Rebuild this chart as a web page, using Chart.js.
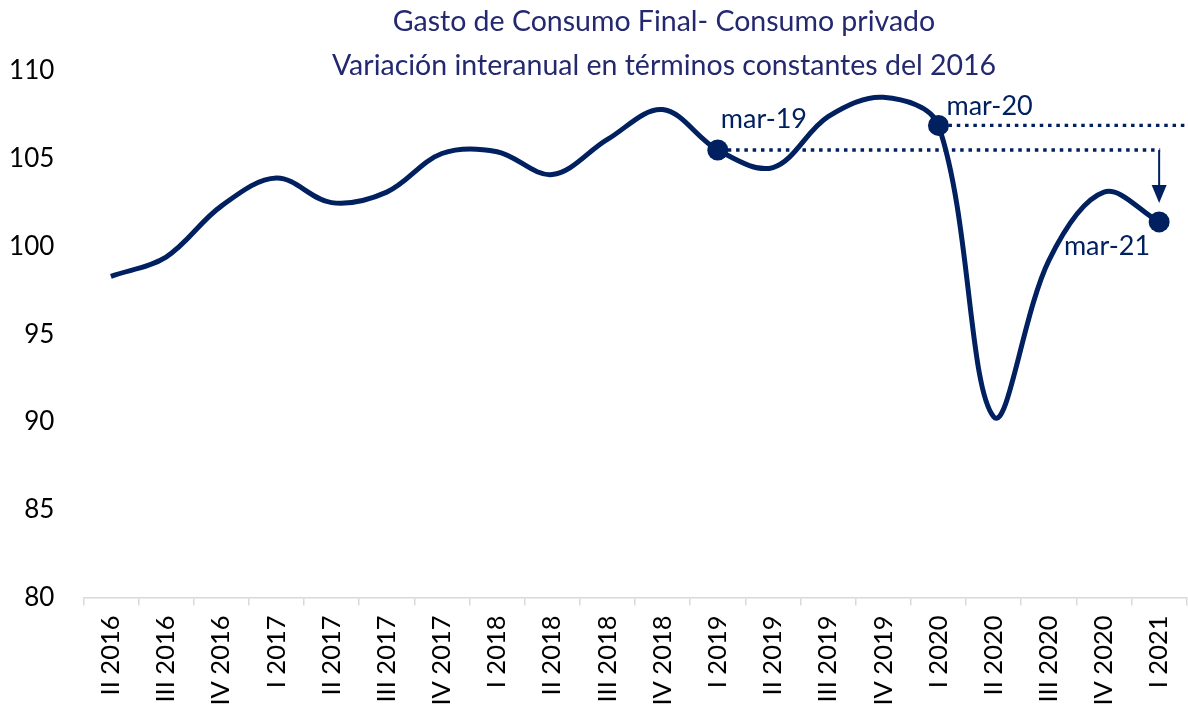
<!DOCTYPE html>
<html>
<head>
<meta charset="utf-8">
<script src="https://cdn.jsdelivr.net/npm/chart.js@4.4.1/dist/chart.umd.min.js"></script>
<style>
  html, body { margin: 0; padding: 0; background: #fff; overflow: hidden; }
  #wrap { width: 1200px; height: 707px; }
</style>
</head>
<body>
<div id="wrap"><canvas id="chConsumo"></canvas></div>
<script>
// quarters on the x axis
const quarters = ['II 2016', 'III 2016', 'IV 2016', 'I 2017', 'II 2017', 'III 2017', 'IV 2017',
  'I 2018', 'II 2018', 'III 2018', 'IV 2018', 'I 2019', 'II 2019', 'III 2019', 'IV 2019',
  'I 2020', 'II 2020', 'III 2020', 'IV 2020', 'I 2021'];
// index values
const consumo = [98.3, 99.4, 102.3, 103.9, 102.5, 103.1, 105.3, 105.4, 104.1, 106.1, 107.8,
  105.5, 104.5, 107.4, 108.5, 106.9, 90.3, 99.2, 103.1, 101.4];
const yTicks = [80, 85, 90, 95, 100, 105, 110];
// highlighted points and their labels
const markerIdx = [11, 15, 19];
const markerLabels = ['mar-19', 'mar-20', 'mar-21'];
const titleLines = ['Gasto de Consumo Final- Consumo privado',
  'Variación interanual en términos constantes del 2016'];

const navy = '#002060';
const titleColor = '#24286f';

var radii = consumo.map(function (v, i) { return markerIdx.indexOf(i) >= 0 ? 10.5 : 0; });

var annotations = {
  id: 'annotations',
  afterDatasetsDraw: function (chart) {
    var ctx = chart.ctx;
    var pts = chart.getDatasetMeta(0).data;
    var a = pts[markerIdx[0]], b = pts[markerIdx[1]], c = pts[markerIdx[2]];
    ctx.save();

    // dotted reference lines
    ctx.strokeStyle = navy;
    ctx.lineWidth = 3.3;
    ctx.setLineDash([3.5, 4.8]);
    ctx.beginPath();
    ctx.moveTo(a.x + 10, a.y);
    ctx.lineTo(c.x + 1, a.y);
    ctx.moveTo(b.x + 10, b.y);
    ctx.lineTo(chart.width, b.y);
    ctx.stroke();
    ctx.setLineDash([]);

    // arrow down to the last point
    var ax = c.x, tip = c.y - 19;
    ctx.lineWidth = 2;
    ctx.beginPath();
    ctx.moveTo(ax, a.y);
    ctx.lineTo(ax, tip - 14);
    ctx.stroke();
    ctx.fillStyle = navy;
    ctx.beginPath();
    ctx.moveTo(ax - 7.5, tip - 18);
    ctx.lineTo(ax + 7.5, tip - 18);
    ctx.lineTo(ax, tip);
    ctx.closePath();
    ctx.fill();

    // point labels
    ctx.font = '27px Lato';
    ctx.fillStyle = navy;
    ctx.textBaseline = 'alphabetic';
    ctx.textAlign = 'left';
    ctx.fillText(markerLabels[0], a.x + 3, a.y - 22);
    ctx.fillText(markerLabels[1], b.x + 8, b.y - 10);
    ctx.textAlign = 'right';
    ctx.fillText(markerLabels[2], c.x - 9, c.y + 33);

    // title
    ctx.font = '28.5px Lato';
    ctx.fillStyle = titleColor;
    ctx.textAlign = 'center';
    ctx.fillText(titleLines[0], 664, 31);
    ctx.fillText(titleLines[1], 664, 75);
    ctx.restore();
  }
};

new Chart(document.getElementById('chConsumo'), {
  type: 'line',
  data: {
    labels: quarters,
    datasets: [{
      data: consumo,
      borderColor: navy,
      borderWidth: 5,
      tension: 0.35,
      fill: false,
      pointRadius: radii,
      pointHoverRadius: radii,
      pointBackgroundColor: navy,
      pointBorderColor: navy,
      pointBorderWidth: 0
    }]
  },
  options: {
    responsive: true,
    maintainAspectRatio: false,
    animation: false,
    layout: { padding: { top: 71, right: 5, left: 0, bottom: 0 } },
    plugins: { legend: { display: false }, tooltip: { enabled: false }, title: { display: false } },
    scales: {
      x: {
        offset: true,
        grid: { offset: true, drawOnChartArea: false, drawTicks: true, tickLength: 8, color: '#d9d9d9', lineWidth: 1.5 },
        border: { display: true, color: '#d9d9d9', width: 1.5 },
        ticks: { autoSkip: false, maxRotation: 90, minRotation: 90, padding: 10, color: '#000', font: { family: 'Lato', size: 25.5 } },
        afterFit: function (scale) { scale.height = 109.5; }
      },
      y: {
        min: 80,
        max: 110,
        afterBuildTicks: function (scale) { scale.ticks = yTicks.map(function (v) { return { value: v }; }); },
        grid: { display: false },
        border: { display: false },
        ticks: { color: '#000', padding: 21, font: { family: 'Lato', size: 26 } },
        afterFit: function (scale) { scale.width = 83.3; }
      }
    }
  },
  plugins: [annotations]
});
</script>
</body>
</html>
